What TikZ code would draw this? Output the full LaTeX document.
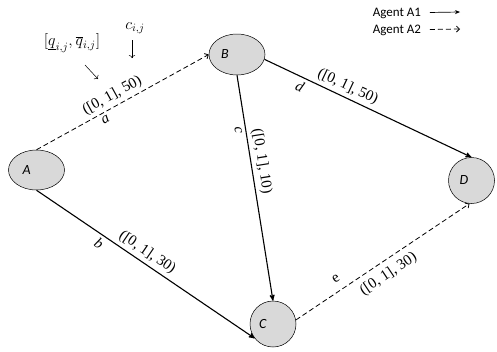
\documentclass[tikz,border=0pt]{standalone}
\usepackage{fix-cm}
\usepackage{fontspec}
\setmainfont{Liberation Serif}
\newfontfamily\calib{Carlito}
\usepackage{tikz}
\usetikzlibrary{arrows, arrows.meta, shapes}
\definecolor{nodegray}{RGB}{217,217,217}

\begin{document}
\begin{tikzpicture}[->,>=stealth',x=1pt,y=-1pt,line width=1.1pt,
                    font=\fontsize{15}{17}\selectfont]
  \tikzstyle{station}=[ellipse,draw,fill=nodegray,line width=0.5pt,inner sep=0pt,
                       font=\calib\itshape\fontsize{14}{16}\selectfont]
  \tikzstyle{agenttwo}=[dashed,line width=0.8pt,dash pattern=on 5pt off 3pt,
                        -{Straight Barb[length=3pt,width=6pt]}]
  \tikzstyle{legtext}=[font=\calib\fontsize{13}{15}\selectfont]
  \useasboundingbox (0,0) rectangle (497,351);

  \node[station,minimum width=56pt,minimum height=40pt] (A) at (36.5,170) {\makebox[28pt][l]{A}};
  \node[station,minimum width=56pt,minimum height=41pt] (B) at (237,54.5) {\makebox[32pt][l]{B}};
  \node[station,circle,minimum size=46pt] (C) at (273,324) {\makebox[28pt][l]{C}};
  \node[station,circle,minimum size=46pt] (D) at (471.5,180.5) {\makebox[24pt][l]{D}};

  \path (A.north) edge [agenttwo] node [above,sloped,pos=.47] {([0, 1], 50)}
                                   node [below,sloped,pos=.38] {\textit{a}} (B.west)
        (A.south) edge node [above,sloped,pos=.48] {([0, 1], 30)}
                       node [below,sloped,pos=.31] {\textit{b}} (C.218)
        (B.south) edge node [above,sloped,pos=.39] {([0, 1], 10)}
                       node [below,sloped,pos=.24] {\textit{c}} (C.north)
        (B.-10) edge node [above,sloped,pos=.38] {([0, 1], 50)}
                     node [below,sloped,pos=.19] {\textit{d}} (D.north)
        (C.10) edge [agenttwo] node [below=3pt,sloped,pos=.49] {([0, 1], 30)}
                                node [above=5pt,sloped,pos=.27] {e} (D.265);

  % interval and cost annotations
  \node (qint) at (72,43) {\fontsize{16}{18}\selectfont$[\underline{q}_{i,j},\overline{q}_{i,j}]$};
  \node (cij) at (135,28) {\fontsize{16}{18}\selectfont$c_{i,j}$};
  \coordinate (qtail) at (85,65);
  \coordinate (qtip) at (98,79);
  \coordinate (ctail) at (132,40);
  \coordinate (ctip) at (132,58);
  \draw[line width=0.5pt,-{To[length=3pt]}] (qtail) -- (qtip);
  \draw[line width=0.5pt,-{To[length=3pt]}] (ctail) -- (ctip);

  % legend
  \node[legtext] (agone) at (397,13) {Agent A1};
  \node[legtext] (agtwo) at (397,30) {Agent A2};
  \coordinate (agonetip) at (460,12);
  \coordinate (agtwotip) at (460,29);
  \draw[line width=0.7pt,shorten <=5pt,-{Stealth[length=5pt,width=4pt]}] (agone) -- (agonetip);
  \draw[agenttwo,shorten <=5pt] (agtwo) -- (agtwotip);
\end{tikzpicture}
\end{document}
